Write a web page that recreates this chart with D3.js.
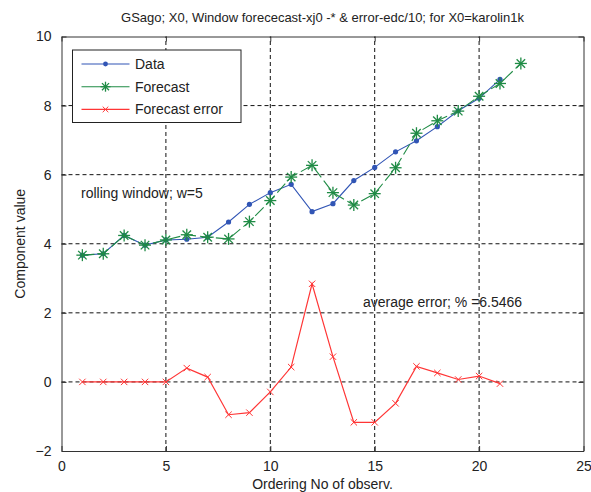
<!DOCTYPE html>
<html>
<head>
<meta charset="utf-8">
<script src="https://cdn.jsdelivr.net/npm/d3@7"></script>
<style>
  body { margin: 0; background: #fff; }
  text { font-family: "Liberation Sans", Arial, sans-serif; fill: #222; }
</style>
</head>
<body>
<script>
// values
var dataX = [1, 2, 3, 4, 5, 6, 7, 8, 9, 10, 11, 12, 13, 14, 15, 16, 17, 18, 19, 20, 21];
var dataY = [3.67, 3.71, 4.24, 3.96, 4.11, 4.13, 4.19, 4.63, 5.14, 5.48, 5.72, 4.93, 5.16, 5.83, 6.21, 6.66, 6.98, 7.39, 7.85, 8.21, 8.76];

var forecastX = [1, 2, 3, 4, 5, 6, 7, 8, 9, 10, 11, 12, 13, 14, 15, 16, 17, 18, 19, 20, 21, 22];
var forecastY = [3.67, 3.71, 4.24, 3.96, 4.11, 4.26, 4.19, 4.14, 4.64, 5.25, 5.93, 6.27, 5.48, 5.12, 5.45, 6.20, 7.20, 7.56, 7.84, 8.27, 8.64, 9.22];

var errorX = [1, 2, 3, 4, 5, 6, 7, 8, 9, 10, 11, 12, 13, 14, 15, 16, 17, 18, 19, 20, 21];
var errorY = [0, 0, 0, 0, 0, 0.40, 0.14, -0.95, -0.89, -0.29, 0.43, 2.84, 0.73, -1.17, -1.17, -0.62, 0.45, 0.26, 0.07, 0.17, -0.05];

var xTicks = [0, 5, 10, 15, 20, 25];
var yTicks = [-2, 0, 2, 4, 6, 8, 10];
var legendNames = ["Data", "Forecast", "Forecast error"];

var width = 591;
var height = 492;
var margin = {left: 61.5, right: 7.5, top: 36.5, bottom: 41};

var blue = "#3155b5";
var green = "#1f8b45";
var red = "#ff3535";

var svg = d3.select("body").append("svg")
    .attr("width", width)
    .attr("height", height);

var x = d3.scaleLinear().domain([0, 25]).range([margin.left, width - margin.right]);
var y = d3.scaleLinear().domain([-2, 10]).range([height - margin.bottom, margin.top]);

// dotted grid
svg.append("g").selectAll("line")
    .data(xTicks.slice(1, -1))
    .enter().append("line")
    .attr("x1", d => x(d)).attr("x2", d => x(d))
    .attr("y1", y(-2)).attr("y2", y(10))
    .attr("stroke", "#111").attr("stroke-dasharray", "4,3");

svg.append("g").selectAll("line")
    .data(yTicks.slice(1, -1))
    .enter().append("line")
    .attr("x1", x(0)).attr("x2", x(25))
    .attr("y1", d => y(d)).attr("y2", d => y(d))
    .attr("stroke", "#111").attr("stroke-dasharray", "4,3");

// axes, ticks pointing inwards like matlab
function styleAxis(g) {
    g.select(".domain").attr("stroke", "#333");
    g.selectAll(".tick line").attr("stroke", "#333");
    g.selectAll(".tick text").style("font-size", "14px").attr("fill", "#222");
}

svg.append("g")
    .attr("transform", `translate(0 ${y(-2)})`)
    .call(d3.axisBottom(x).tickValues(xTicks).tickSize(-5).tickPadding(10).tickSizeOuter(0))
    .call(styleAxis);

svg.append("g")
    .attr("transform", `translate(0 ${y(10)})`)
    .call(d3.axisTop(x).tickValues(xTicks).tickSize(-5).tickFormat("").tickSizeOuter(0))
    .call(styleAxis);

svg.append("g")
    .attr("transform", `translate(${x(0)} 0)`)
    .call(d3.axisLeft(y).tickValues(yTicks).tickSize(-5).tickPadding(10).tickSizeOuter(0))
    .call(styleAxis);

svg.append("g")
    .attr("transform", `translate(${x(25)} 0)`)
    .call(d3.axisRight(y).tickValues(yTicks).tickSize(-5).tickFormat("").tickSizeOuter(0))
    .call(styleAxis);

// series
function pts(xs, ys) {
    return xs.map(function (d, i) { return [d, ys[i]]; });
}

var line = d3.line().x(d => x(d[0])).y(d => y(d[1]));

function asterisk(g, cx, cy, r, color) {
    [0, 45, 90, 135].forEach(function (a) {
        var dx = r * Math.cos(a * Math.PI / 180);
        var dy = r * Math.sin(a * Math.PI / 180);
        g.append("line")
            .attr("x1", cx - dx).attr("y1", cy - dy)
            .attr("x2", cx + dx).attr("y2", cy + dy)
            .attr("stroke", color).attr("stroke-width", 1.3);
    });
}

function cross(g, cx, cy, r, color) {
    g.append("path")
        .attr("d", `M${cx - r},${cy - r}L${cx + r},${cy + r}M${cx - r},${cy + r}L${cx + r},${cy - r}`)
        .attr("stroke", color).attr("stroke-width", 1).attr("fill", "none");
}

var errPts = pts(errorX, errorY);
var fcPts = pts(forecastX, forecastY);
var dataPts = pts(dataX, dataY);

svg.append("path").datum(dataPts)
    .attr("d", line).attr("fill", "none").attr("stroke", blue).attr("stroke-width", 1.1);
svg.append("g").selectAll("circle")
    .data(dataPts)
    .enter().append("circle")
    .attr("cx", d => x(d[0]))
    .attr("cy", d => y(d[1]))
    .attr("r", 2.6)
    .attr("fill", blue);

svg.append("path").datum(fcPts)
    .attr("d", line).attr("fill", "none").attr("stroke", green).attr("stroke-width", 1.1)
    .attr("stroke-dasharray", "12,4");
var fcMarks = svg.append("g");
fcPts.forEach(function (d) { asterisk(fcMarks, x(d[0]), y(d[1]), 6, green); });

svg.append("path").datum(errPts)
    .attr("d", line).attr("fill", "none").attr("stroke", red).attr("stroke-width", 1.2);
var errMarks = svg.append("g");
errPts.forEach(function (d) { cross(errMarks, x(d[0]), y(d[1]), 3.2, red); });

// legend
var legend = svg.append("g");
legend.append("rect")
    .attr("x", 72.5).attr("y", 50)
    .attr("width", 168.5).attr("height", 72.5)
    .attr("fill", "#fff").attr("stroke", "#222");

var legendColors = [blue, green, red];
legendNames.forEach(function (name, i) {
    var ly = 64 + i * 22.7;
    legend.append("line")
        .attr("x1", 81.5).attr("x2", 129.5)
        .attr("y1", ly).attr("y2", ly)
        .attr("stroke", legendColors[i]).attr("stroke-width", 1.1);
    if (i === 0) {
        legend.append("circle").attr("cx", 105.5).attr("cy", ly).attr("r", 2.4).attr("fill", blue);
    } else if (i === 1) {
        asterisk(legend, 105.5, ly, 5, green);
    } else {
        cross(legend, 105.5, ly, 2.8, red);
    }
    legend.append("text")
        .attr("x", 135).attr("y", ly + 5)
        .style("font-size", "14px")
        .text(name);
});

// annotations
svg.append("text")
    .attr("x", 81).attr("y", 197.5)
    .style("font-size", "14px")
    .text("rolling window; w=5");

svg.append("text")
    .attr("x", 363).attr("y", 306.5)
    .style("font-size", "14px")
    .text("average error; % =6.5466");

// title and labels
svg.append("text")
    .attr("x", (x(0) + x(25)) / 2).attr("y", 22)
    .attr("text-anchor", "middle")
    .style("font-size", "13px")
    .text("GSago; X0, Window forececast-xj0 -* & error-edc/10; for X0=karolin1k");

svg.append("text")
    .attr("x", (x(0) + x(25)) / 2).attr("y", 489)
    .attr("text-anchor", "middle")
    .style("font-size", "14px")
    .text("Ordering No of observ.");

svg.append("text")
    .attr("transform", `translate(25 ${(y(-2) + y(10)) / 2}) rotate(-90)`)
    .attr("text-anchor", "middle")
    .style("font-size", "14px")
    .text("Component value");
</script>
</body>
</html>
